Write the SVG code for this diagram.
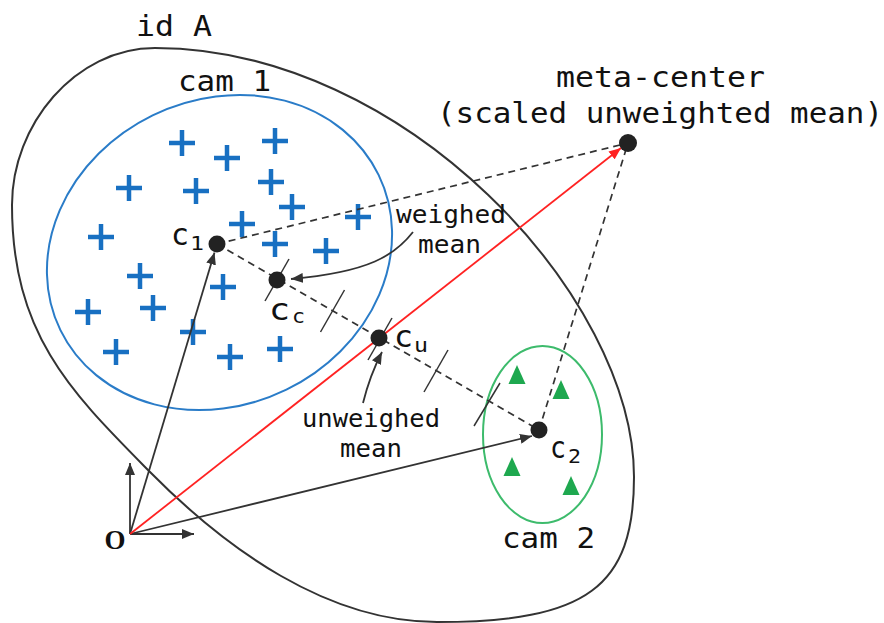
<svg xmlns="http://www.w3.org/2000/svg" xmlns:xlink="http://www.w3.org/1999/xlink" width="884" height="623" viewBox="0 0 884 623">
<style>
.lbl{font-family:"DejaVu Sans Mono","Liberation Mono",monospace;fill:#111}
.big{font-size:29px}
.mid{font-size:25px}
.c{font-size:30px}
.sub{font-size:20px}
.vec{stroke:#333;stroke-width:1.8;fill:none}
.dash{stroke:#333;stroke-width:1.7;fill:none;stroke-dasharray:7 5}
.tick{stroke:#333;stroke-width:1.5}
.dot{fill:#222}
.cross{stroke:#1870c2;stroke-width:4.5;fill:none}
.tri{fill:#1ea84f}
</style>
<defs>
<marker id="ah" viewBox="0 0 12 10" refX="12" refY="5" markerWidth="12" markerHeight="10" markerUnits="userSpaceOnUse" orient="auto"><path d="M0,0 L12,5 L0,10 Z" fill="#333"/></marker>
<marker id="ahr" viewBox="0 0 12 10" refX="12" refY="5" markerWidth="12" markerHeight="10" markerUnits="userSpaceOnUse" orient="auto"><path d="M0,0 L12,5 L0,10 Z" fill="#f22"/></marker>
<path id="cr" class="cross" d="M-13,0H13M0,-13V13"/>
<path id="tr" class="tri" d="M0,-10L8.5,9L-8.5,9Z"/>
</defs>

<g id="idA">
<path d="M155,48 C405,48 634,297 634,477 C634,587 587,622 437,622 C327,622 226,549 149,471 C72,393 12,335 12,205 C12,125 75,48 155,48 Z" fill="none" stroke="#333" stroke-width="2"/>
<text class="lbl big" x="136" y="36" textLength="76" lengthAdjust="spacingAndGlyphs">id A</text>
</g>

<g id="cam1">
<ellipse cx="219.5" cy="252.5" rx="177" ry="152.6" transform="rotate(-26 219.5 252.5)" fill="none" stroke="#2a7cc8" stroke-width="2"/>
<text class="lbl big" x="178" y="91" textLength="93" lengthAdjust="spacingAndGlyphs">cam 1</text>
<use xlink:href="#cr" x="182" y="143"/>
<use xlink:href="#cr" x="227" y="158"/>
<use xlink:href="#cr" x="275" y="141"/>
<use xlink:href="#cr" x="129" y="188"/>
<use xlink:href="#cr" x="196" y="191"/>
<use xlink:href="#cr" x="271" y="182"/>
<use xlink:href="#cr" x="292" y="207"/>
<use xlink:href="#cr" x="101" y="237"/>
<use xlink:href="#cr" x="242" y="224"/>
<use xlink:href="#cr" x="275" y="244"/>
<use xlink:href="#cr" x="326" y="251"/>
<use xlink:href="#cr" x="358" y="217"/>
<use xlink:href="#cr" x="140" y="276"/>
<use xlink:href="#cr" x="223" y="287"/>
<use xlink:href="#cr" x="88" y="312"/>
<use xlink:href="#cr" x="153" y="308"/>
<use xlink:href="#cr" x="193" y="332"/>
<use xlink:href="#cr" x="116" y="352"/>
<use xlink:href="#cr" x="230" y="357"/>
<use xlink:href="#cr" x="280" y="349"/>
</g>

<g id="cam2">
<ellipse cx="542.5" cy="434.5" rx="59.5" ry="88.5" fill="none" stroke="#3dbb6c" stroke-width="2"/>
<text class="lbl big" x="502" y="548" textLength="93" lengthAdjust="spacingAndGlyphs">cam 2</text>
<use xlink:href="#tr" x="517" y="375"/>
<use xlink:href="#tr" x="561" y="390"/>
<use xlink:href="#tr" x="512" y="467"/>
<use xlink:href="#tr" x="571" y="486"/>
</g>

<g id="connectors">
<line class="vec" x1="130" y1="534" x2="130" y2="463" marker-end="url(#ah)"/>
<line class="vec" x1="130" y1="534" x2="194" y2="534" marker-end="url(#ah)"/>
<line class="vec" x1="130" y1="534" x2="214.5" y2="252.5" marker-end="url(#ah)"/>
<line class="vec" x1="130" y1="534" x2="532" y2="436" marker-end="url(#ah)"/>
<line x1="130" y1="534" x2="621" y2="148" stroke="#f22" stroke-width="1.8" marker-end="url(#ahr)"/>
<line class="dash" x1="217" y1="244" x2="628" y2="143"/>
<line class="dash" x1="217" y1="244" x2="539" y2="430"/>
<line class="dash" x1="539" y1="430" x2="628" y2="143"/>
<line class="tick" x1="289" y1="259" x2="265" y2="301"/>
<line class="tick" x1="344.5" y1="290" x2="320.5" y2="332"/>
<line class="tick" x1="392" y1="318" x2="368" y2="360"/>
<line class="tick" x1="448" y1="350" x2="424" y2="392"/>
<line class="tick" x1="500" y1="383" x2="474" y2="426"/>
<path class="vec" d="M413,232 C395,255 370,272 291,279" marker-end="url(#ah)"/>
<path class="vec" d="M363,403 Q370,375 382,352" marker-end="url(#ah)"/>
</g>

<g id="origin">
<text x="115" y="549" text-anchor="middle" font-family="Liberation Serif,serif" font-size="27" font-weight="bold" fill="#111">O</text>
</g>

<g id="c1">
<circle class="dot" cx="217" cy="244" r="8.5"/>
<text class="lbl c" x="171" y="245" textLength="18" lengthAdjust="spacingAndGlyphs">c</text>
<text class="lbl sub" x="190" y="250" textLength="14" lengthAdjust="spacingAndGlyphs">1</text>
</g>

<g id="cc">
<circle class="dot" cx="277" cy="280" r="8.5"/>
<text class="lbl c" x="269" y="320" textLength="21" lengthAdjust="spacingAndGlyphs">c</text>
<text class="lbl sub" x="292" y="323" textLength="13" lengthAdjust="spacingAndGlyphs">c</text>
</g>

<g id="cu">
<circle class="dot" cx="379" cy="338" r="8.5"/>
<text class="lbl c" x="394" y="347" textLength="19" lengthAdjust="spacingAndGlyphs">c</text>
<text class="lbl sub" x="414" y="352" textLength="14" lengthAdjust="spacingAndGlyphs">u</text>
</g>

<g id="c2">
<circle class="dot" cx="539" cy="430" r="8.5"/>
<text class="lbl c" x="550" y="458" textLength="16" lengthAdjust="spacingAndGlyphs">c</text>
<text class="lbl sub" x="568" y="463" textLength="13" lengthAdjust="spacingAndGlyphs">2</text>
</g>

<g id="meta">
<circle class="dot" cx="628" cy="143" r="9"/>
<text class="lbl big" x="556" y="87" textLength="209" lengthAdjust="spacingAndGlyphs">meta-center</text>
<text class="lbl big" x="437" y="123" textLength="446" lengthAdjust="spacingAndGlyphs">(scaled unweighted mean)</text>
</g>

<g id="weighed">
<text class="lbl mid" x="396" y="223" textLength="110" lengthAdjust="spacingAndGlyphs">weighed</text>
<text class="lbl mid" x="418" y="253" textLength="63" lengthAdjust="spacingAndGlyphs">mean</text>
</g>

<g id="unweighed">
<text class="lbl mid" x="302" y="427" textLength="138" lengthAdjust="spacingAndGlyphs">unweighed</text>
<text class="lbl mid" x="340" y="457" textLength="62" lengthAdjust="spacingAndGlyphs">mean</text>
</g>
</svg>
